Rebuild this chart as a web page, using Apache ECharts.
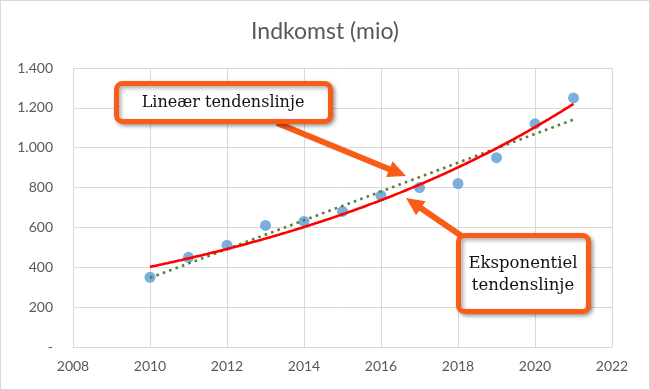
<!DOCTYPE html>
<html>
<head>
<meta charset="utf-8">
<script src="https://cdn.jsdelivr.net/npm/echarts@6/dist/echarts.min.js"></script>
<style>
html,body{margin:0;padding:0;background:#fff;}
#c{width:650px;height:390px;box-sizing:border-box;border:1px solid #d9d9d9;}
</style>
</head>
<body>
<div id="c"></div>
<script>
// ---- data ----
const years = [2010, 2011, 2012, 2013, 2014, 2015, 2016, 2017, 2018, 2019, 2020, 2021];
const income = [350, 450, 510, 610, 630, 680, 760, 800, 820, 950, 1120, 1250];
const xTicks = [2008, 2010, 2012, 2014, 2016, 2018, 2020, 2022];
const yTicks = [0, 200, 400, 600, 800, 1000, 1200, 1400];
const titleText = 'Indkomst (mio)';
const linLabel = 'Lineær tendenslinje';
const expLabel = ['Eksponentiel', 'tendenslinje'];

// least squares trendlines (as Excel computes them)
function fit(xs, ys) {
  const n = xs.length;
  const mx = xs.reduce((a, b) => a + b, 0) / n;
  const my = ys.reduce((a, b) => a + b, 0) / n;
  let sxy = 0, sxx = 0;
  for (let i = 0; i < n; i++) { sxy += (xs[i] - mx) * (ys[i] - my); sxx += (xs[i] - mx) ** 2; }
  const b = sxy / sxx;
  return { a: my - b * mx, b: b };
}
const lin = fit(years, income);
const ex = fit(years, income.map(v => Math.log(v)));
const x0 = years[0], x1 = years[years.length - 1];
const linData = [[x0, lin.a + lin.b * x0], [x1, lin.a + lin.b * x1]];
const expData = [];
for (let k = 0; k <= 110; k++) {
  const x = x0 + (x1 - x0) * k / 110;
  expData.push([x, Math.exp(ex.a + ex.b * x)]);
}

const chart = echarts.init(document.getElementById('c'), null, { renderer: 'canvas' });
const orange = '#f95c16';
const labelColor = '#595959';
const font = 'Lato, "Open Sans", sans-serif';
const serif = '"DejaVu Serif", Georgia, serif';

function arrow(fromX, fromY, tipX, tipY) {
  const dx = tipX - fromX, dy = tipY - fromY;
  const L = Math.sqrt(dx * dx + dy * dy);
  const ux = dx / L, uy = dy / L;
  const hl = 18, hw = 8.5;
  const bx = tipX - ux * hl, by = tipY - uy * hl;
  const px = -uy, py = ux;
  return [
    { type: 'line', shape: { x1: fromX, y1: fromY, x2: bx + ux * 2, y2: by + uy * 2 },
      style: { stroke: orange, lineWidth: 6 }, z: 10 },
    { type: 'polygon', shape: { points: [[tipX, tipY], [bx + px * hw, by + py * hw], [bx - px * hw, by - py * hw]] },
      style: { fill: orange }, z: 10 }
  ];
}

const boxStyle = {
  fill: '#fff', stroke: orange, lineWidth: 5,
  shadowBlur: 4, shadowColor: 'rgba(0,0,0,0.35)', shadowOffsetX: 2, shadowOffsetY: 2
};

chart.setOption({
  animation: false,
  backgroundColor: '#fff',
  title: {
    text: titleText, left: 'center', top: 14,
    textStyle: { fontFamily: font, fontSize: 23, fontWeight: 'normal', color: labelColor }
  },
  grid: { left: 72, right: 37, top: 67, bottom: 42 },
  xAxis: {
    type: 'value', min: xTicks[0], max: xTicks[xTicks.length - 1], interval: 2,
    axisLine: { show: true, lineStyle: { color: '#d9d9d9', width: 1 } },
    axisTick: { show: false },
    splitLine: { show: true, lineStyle: { color: '#d9d9d9', width: 1 } },
    axisLabel: { color: labelColor, fontFamily: font, fontSize: 14, margin: 12, formatter: v => String(v) }
  },
  yAxis: {
    type: 'value', min: yTicks[0], max: yTicks[yTicks.length - 1], interval: 200,
    axisLine: { show: false },
    axisTick: { show: false },
    splitLine: { show: true, lineStyle: { color: '#d9d9d9', width: 1 } },
    axisLabel: {
      color: labelColor, fontFamily: font, fontSize: 14, margin: 20,
      formatter: v => v === 0 ? '-' : String(v).replace(/\B(?=(\d{3})+(?!\d))/g, '.')
    }
  },
  series: [
    { type: 'scatter', data: years.map((y, i) => [y, income[i]]), symbolSize: 11,
      itemStyle: { color: '#5b9bd5' }, z: 2 },
    { type: 'line', data: linData, showSymbol: false, symbol: 'none', z: 3,
      lineStyle: { color: '#548235', width: 2.6, type: [2.6, 4.2] } },
    { type: 'line', data: expData, showSymbol: false, symbol: 'none', smooth: true, z: 4,
      lineStyle: { color: '#ff0000', width: 2.6 } }
  ],
  graphic: [
    ...arrow(276, 122, 405, 175),
    ...arrow(462, 236, 405, 197),
    { type: 'rect', shape: { x: 115.5, y: 82.5, width: 214, height: 38, r: 6 }, style: boxStyle, z: 20 },
    { type: 'text', x: 222, y: 102, style: { text: linLabel, font: '16px ' + serif, fill: '#111', align: 'center', verticalAlign: 'middle' }, z: 21 },
    { type: 'rect', shape: { x: 457.5, y: 234.5, width: 130, height: 76, r: 6 }, style: boxStyle, z: 20 },
    { type: 'text', x: 522, y: 274, style: { text: expLabel.join('\n'), font: '16.5px ' + serif, lineHeight: 22, fill: '#111', align: 'center', verticalAlign: 'middle' }, z: 21 }
  ]
});
</script>
</body>
</html>
